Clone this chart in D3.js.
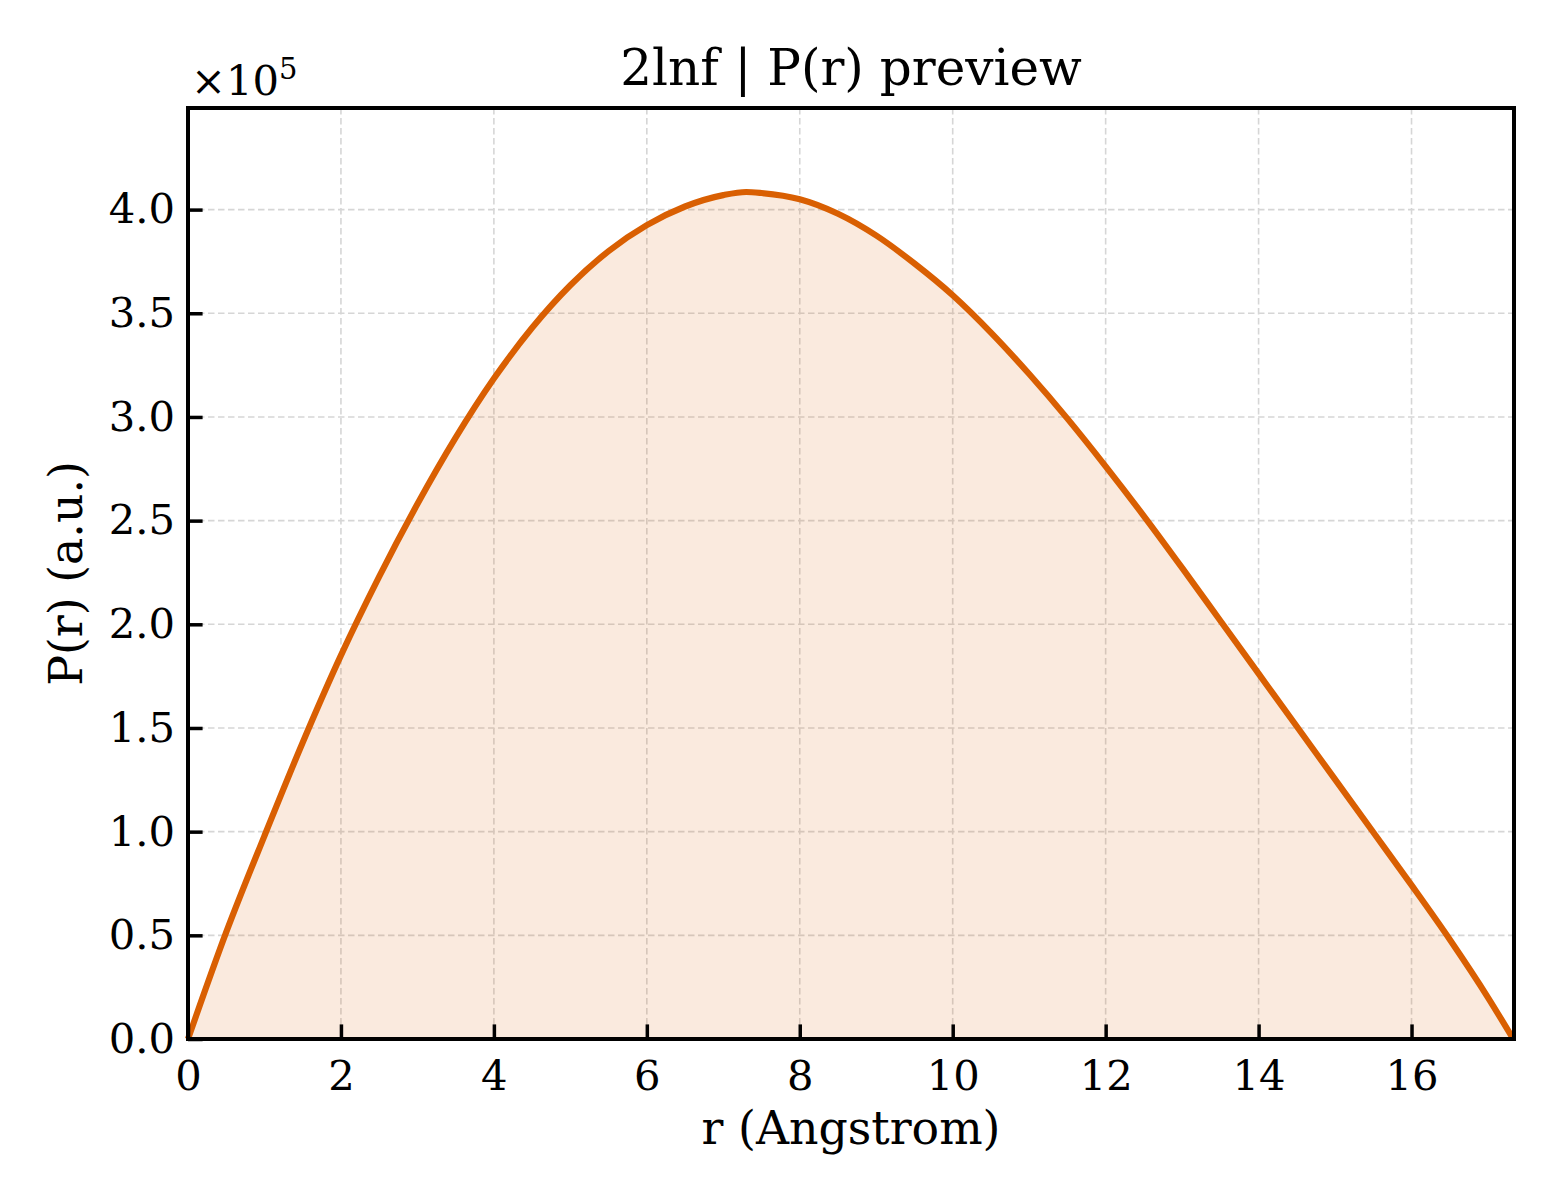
<!DOCTYPE html>
<html>
<head>
<meta charset="utf-8">
<script src="https://cdn.jsdelivr.net/npm/d3@7"></script>
<style>
  html, body { margin: 0; padding: 0; background: #ffffff; }
  svg { display: block; }
  text { font-family: "DejaVu Serif", serif; fill: #000; }
</style>
</head>
<body>
<svg id="chart" width="1560" height="1200"></svg>
<script>
// ---- data (r in Angstrom, P(r) in units of 1e5) ----
const rValues = [0, 0.5, 1.0, 1.5, 2.0, 2.5, 3.0, 3.5, 4.0, 4.5, 5.0, 5.5, 6.0, 6.5, 7.0, 7.3, 7.5,
                 8.0, 8.5, 9.0, 9.5, 10.0, 10.5, 11.0, 11.5, 12.0, 12.5, 13.0, 13.5, 14.0, 14.5,
                 15.0, 15.5, 16.0, 16.5, 17.0, 17.33];
const pValues = [0, 0.515, 0.98, 1.43, 1.85, 2.23, 2.58, 2.90, 3.185, 3.43, 3.635, 3.80, 3.925, 4.015, 4.07, 4.085, 4.08,
                 4.05, 3.98, 3.875, 3.74, 3.587, 3.407, 3.207, 2.992, 2.762, 2.522, 2.272, 2.017, 1.762, 1.507,
                 1.252, 0.997, 0.742, 0.48, 0.20, 0];
const xTicks = [0, 2, 4, 6, 8, 10, 12, 14, 16];
const yTicks = [0.0, 0.5, 1.0, 1.5, 2.0, 2.5, 3.0, 3.5, 4.0];
const titleText = "2lnf | P(r) preview";
const xLabelText = "r (Angstrom)";
const yLabelText = "P(r) (a.u.)";

const data = rValues.map((r, i) => ({ r: r, p: pValues[i] }));

const svg = d3.select("#chart");
const L = 188, R = 1514, T = 108, B = 1039;

const x = d3.scaleLinear().domain([0, 17.34]).range([L, R]);
const y = d3.scaleLinear().domain([0, 4.49]).range([B, T]);

const lineColor = "#d95f02";

// grid
const grid = svg.append("g");
grid.selectAll("line.gx").data(xTicks).join("line")
  .attr("x1", d => x(d)).attr("x2", d => x(d))
  .attr("y1", T).attr("y2", B)
  .attr("stroke", "#d6d6d6").attr("stroke-width", 1.6)
  .attr("stroke-dasharray", "6.5,3.5");
grid.selectAll("line.gy").data(yTicks).join("line")
  .attr("x1", L).attr("x2", R)
  .attr("y1", d => y(d)).attr("y2", d => y(d))
  .attr("stroke", "#d6d6d6").attr("stroke-width", 1.6)
  .attr("stroke-dasharray", "6.5,3.5");

// area fill
const area = d3.area().x(d => x(d.r)).y0(y(0)).y1(d => y(d.p)).curve(d3.curveMonotoneX);
svg.append("path").datum(data).attr("d", area)
  .attr("fill", lineColor).attr("fill-opacity", 0.13);

// line
const line = d3.line().x(d => x(d.r)).y(d => y(d.p)).curve(d3.curveMonotoneX);
svg.append("path").datum(data).attr("d", line)
  .attr("fill", "none").attr("stroke", lineColor).attr("stroke-width", 6.2)
  .attr("stroke-linejoin", "round").attr("stroke-linecap", "butt");

// axes (ticks inward)
const xAxis = d3.axisBottom(x).tickValues(xTicks).tickFormat(d3.format("d"))
  .tickSizeInner(-14.6).tickSizeOuter(0).tickPadding(21);
const gx = svg.append("g").attr("transform", `translate(0,${B})`).call(xAxis);
gx.select(".domain").remove();
gx.selectAll(".tick line").attr("stroke", "#000").attr("stroke-width", 3.5);
gx.selectAll(".tick text").attr("font-size", 41.7).attr("font-family", "DejaVu Serif").attr("fill", "#000");

const yAxis = d3.axisLeft(y).tickValues(yTicks).tickFormat(d3.format(".1f"))
  .tickSizeInner(-14.6).tickSizeOuter(0).tickPadding(13);
const gy = svg.append("g").attr("transform", `translate(${L},0)`).call(yAxis);
gy.select(".domain").remove();
gy.selectAll(".tick line").attr("stroke", "#000").attr("stroke-width", 3.5);
gy.selectAll(".tick text").attr("font-size", 41.7).attr("font-family", "DejaVu Serif").attr("fill", "#000");

// frame
svg.append("rect").attr("x", L).attr("y", T).attr("width", R - L).attr("height", B - T)
  .attr("fill", "none").attr("stroke", "#000").attr("stroke-width", 4);

// title
svg.append("text").attr("x", (L + R) / 2).attr("y", 85)
  .attr("text-anchor", "middle").attr("font-size", 50).text(titleText);

// x label
svg.append("text").attr("x", (L + R) / 2).attr("y", 1144)
  .attr("text-anchor", "middle").attr("font-size", 45.8).text(xLabelText);

// y label
svg.append("text").attr("transform", `translate(82,${(T + B) / 2}) rotate(-90)`)
  .attr("text-anchor", "middle").attr("font-size", 45.8).text(yLabelText);

// offset text
const off = svg.append("text").attr("x", 191).attr("y", 95).attr("font-size", 41.7);
off.append("tspan").text("×10");
off.append("tspan").attr("font-size", 29).attr("dy", -16).text("5");
</script>
</body>
</html>
